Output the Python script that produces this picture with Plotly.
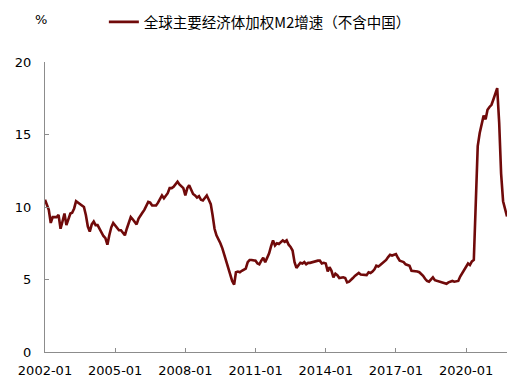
import pandas as pd
import plotly.graph_objects as go

series_name = "全球主要经济体加权M2增速（不含中国）"
start_month = "2002-01-01"
m2_growth = [
    10.5, 10.1, 9.8, 8.9, 9.3, 9.3, 9.3, 9.45, 8.5, 9.0, 9.55, 8.75,
    9.2, 9.55, 9.6, 9.9, 10.4, 10.3, 10.25, 10.1, 10.0, 9.45, 8.65, 8.3,
    8.8, 9.0, 8.75, 8.75, 8.5, 8.3, 8.0, 7.85, 7.4, 8.05, 8.6, 8.9,
    8.7, 8.5, 8.4, 8.4, 8.2, 8.05, 8.5, 8.9, 9.3, 9.15, 9.0, 8.8,
    9.2, 9.45, 9.6, 9.8, 10.1, 10.35, 10.3, 10.1, 10.1, 10.1, 10.3, 10.5,
    10.8, 10.6, 10.8, 10.95, 11.3, 11.3, 11.4, 11.6, 11.75, 11.55, 11.4, 11.3,
    10.8, 11.3, 11.5, 11.15, 10.9, 10.8, 10.65, 10.75, 10.5, 10.45, 10.6, 10.8,
    10.5, 10.2, 9.45, 8.5, 8.05, 7.8, 7.5, 7.15, 6.7, 6.3, 5.8, 5.4,
    4.9, 4.65, 5.5, 5.55, 5.5, 5.6, 5.65, 5.75, 6.2, 6.35, 6.35, 6.35,
    6.3, 6.1, 6.05, 6.3, 6.5, 6.2, 6.45, 6.8, 7.3, 7.7, 7.35, 7.5,
    7.45, 7.6, 7.7, 7.6, 7.7, 7.4, 7.25, 7.0, 6.2, 5.8, 6.0, 6.15,
    6.1, 6.2, 6.05, 6.15, 6.15, 6.2, 6.25, 6.25, 6.3, 6.3, 6.1, 6.15,
    6.1, 5.55, 5.85, 5.6, 5.15, 5.4, 5.3, 5.1, 5.15, 5.15, 5.1, 4.8,
    4.85, 4.95, 5.1, 5.25, 5.35, 5.45, 5.35, 5.35, 5.35, 5.3, 5.5, 5.45,
    5.55, 5.7, 5.95, 5.9, 6.0, 6.1, 6.2, 6.35, 6.55, 6.7, 6.65, 6.7,
    6.75, 6.5, 6.3, 6.25, 6.2, 6.05, 6.0, 5.95, 5.6, 5.6, 5.6, 5.55,
    5.5, 5.4, 5.25, 5.05, 4.9, 4.85, 5.0, 5.15, 4.95, 4.9, 4.85, 4.8,
    4.75, 4.7, 4.7, 4.8, 4.85, 4.9, 4.85, 4.85, 4.9, 5.2, 5.45, 5.65,
    5.9, 6.1, 6.0, 6.25, 6.35, 10.3, 14.2, 15.1, 15.65, 16.3, 16.05, 16.7,
    16.9, 17.05, 17.4, 17.85, 18.2, 15.8, 12.3, 10.4, 9.75, 9.35,
]
tick_dates = ["2002-01-01", "2005-01-01", "2008-01-01", "2011-01-01",
              "2014-01-01", "2017-01-01", "2020-01-01"]
tick_labels = ["2002-01", "2005-01", "2008-01", "2011-01",
               "2014-01", "2017-01", "2020-01"]
y_ticks = [0, 5, 10, 15, 20]

dates = pd.date_range(start_month, periods=len(m2_growth), freq="MS")

axis_color = "#8c8c8c"
tick_font = dict(family="DejaVu Sans", size=13, color="#000000")

fig = go.Figure()
fig.add_trace(go.Scatter(
    x=dates, y=m2_growth, mode="lines", name=series_name,
    line=dict(color="#700A0A", width=2.6),
))

fig.update_layout(
    width=521, height=377,
    margin=dict(l=37, r=22, t=54, b=33, autoexpand=False),
    paper_bgcolor="white", plot_bgcolor="white",
    showlegend=True,
    legend=dict(
        orientation="h", xref="container", yref="container",
        x=0.184, y=0.963, xanchor="left", yanchor="middle",
        font=dict(family="Noto Sans CJK SC", size=14.5, color="#000000"),
        bgcolor="rgba(0,0,0,0)", itemwidth=30,
    ),
    xaxis=dict(
        type="date", range=[start_month, "2021-10-01"],
        tickvals=tick_dates, ticktext=tick_labels,
        showline=True, linecolor=axis_color, linewidth=1,
        ticks="inside", ticklen=4, tickcolor=axis_color,
        showgrid=False, zeroline=False, tickfont=tick_font,
        ticklabelstandoff=6, automargin=False,
    ),
    yaxis=dict(
        range=[0, 20], tickvals=y_ticks,
        showline=True, linecolor=axis_color, linewidth=1,
        ticks="inside", ticklen=4, tickcolor=axis_color,
        showgrid=False, zeroline=False, tickfont=tick_font,
        ticklabelstandoff=10, automargin=False,
    ),
    annotations=[dict(
        text="%", xref="paper", yref="paper", x=-0.009, y=1.148,
        xanchor="center", yanchor="middle", showarrow=False,
        font=dict(family="DejaVu Sans", size=13, color="#000000"),
    )],
)

fig.write_html("out.html")
